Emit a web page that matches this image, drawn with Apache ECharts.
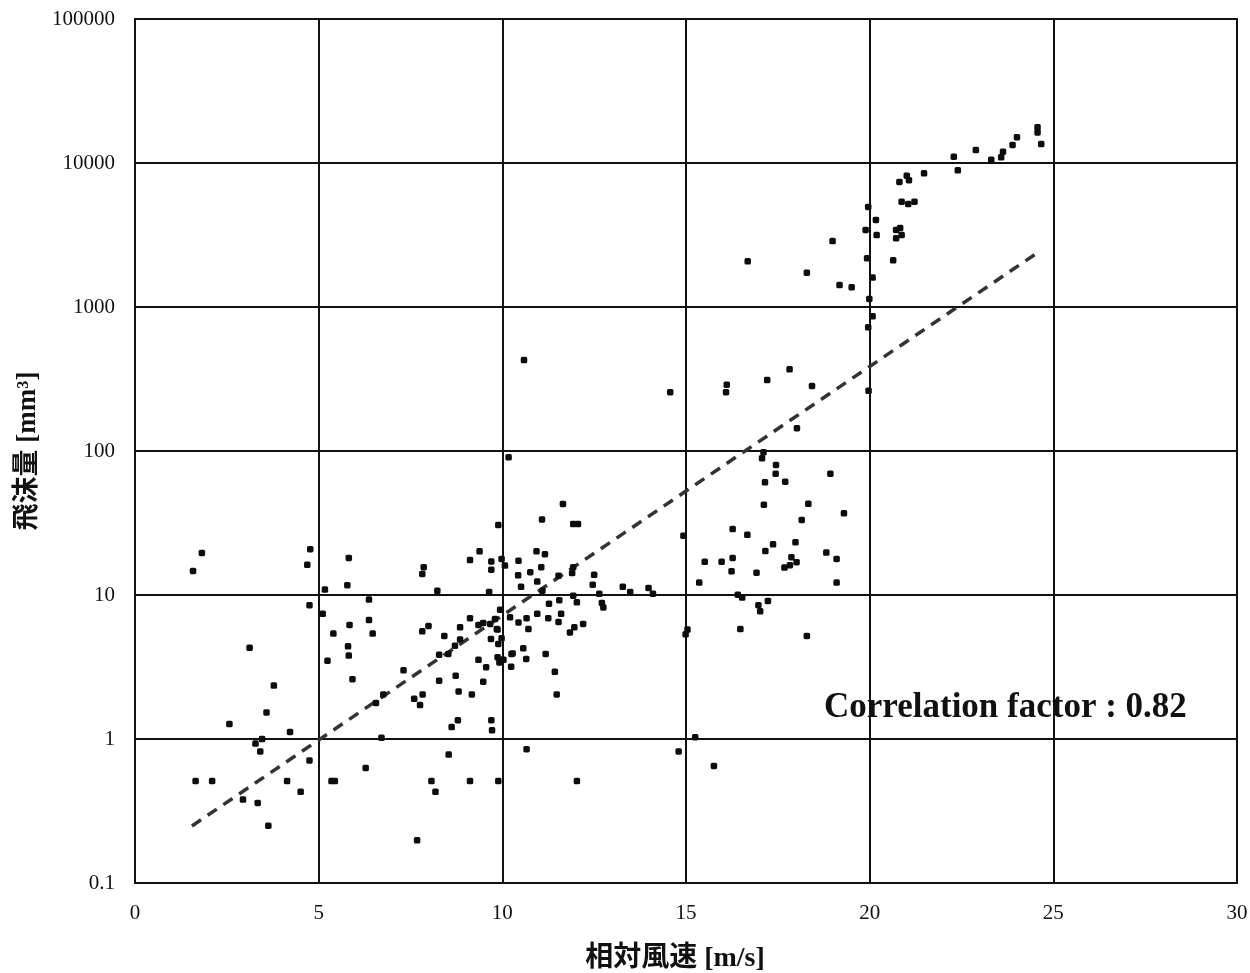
<!DOCTYPE html>
<html>
<head>
<meta charset="utf-8">
<script src="https://cdn.jsdelivr.net/npm/echarts@6/dist/echarts.min.js"></script>
<style>
html,body{margin:0;padding:0;background:#fff;}
#chart{width:1250px;height:973px;}
</style>
</head>
<body>
<div id="chart"></div>
<script>
// Relative wind speed [m/s]
const speed = [
 1.58,1.82,1.65,2.10,2.57,3.12,3.28,3.46,3.41,3.58,3.78,4.22,4.14,4.51,2.94,3.34,3.63,4.75,
 4.77,4.69,4.75,5.11,5.17,5.82,5.78,6.37,6.37,5.84,5.40,6.47,5.80,5.82,5.24,5.92,6.71,6.28,5.35,5.44,
 7.31,7.60,7.83,7.76,6.56,6.76,7.68,7.86,7.82,8.23,7.99,7.82,8.42,8.28,8.53,8.71,8.85,8.85,
 8.28,8.73,8.81,9.17,9.48,8.79,8.62,9.70,9.72,8.07,8.18,8.54,9.12,9.89,
 9.12,9.38,9.70,9.70,9.64,9.89,9.98,10.07,9.12,9.35,9.48,9.35,9.56,9.85,9.69,9.89,9.94,10.25,10.24,9.94,10.21,
 10.17,11.65,11.08,11.93,12.06,10.44,10.93,11.16,11.06,10.43,10.76,10.95,10.51,11.53,11.93,11.90,12.50,12.46,
 11.09,12.64,13.28,13.48,13.98,14.10,12.71,12.75,11.93,12.03,11.55,11.27,10.44,10.66,10.95,11.25,11.60,11.53,
 10.71,11.96,11.84,12.20,9.67,9.80,9.87,9.98,10.28,10.57,10.65,11.18,9.87,10.03,9.92,11.43,11.48,10.66,12.03,
 10.59,14.57,16.11,16.09,17.21,17.82,18.43,19.97,18.02,17.11,17.07,17.45,17.44,17.15,17.70,18.93,17.12,18.33,
 19.30,18.15,16.27,16.67,14.93,17.16,17.37,17.98,18.82,19.10,17.87,18.01,17.83,17.68,15.51,15.97,16.27,16.24,
 16.92,15.36,19.10,16.41,16.53,16.97,17.02,17.23,15.04,14.99,16.48,18.29,15.25,14.80,15.76,
 24.57,24.57,24.67,24.01,23.89,23.63,23.58,23.31,22.89,22.29,22.40,21.48,21.01,21.07,20.81,20.87,21.05,21.22,
 19.96,20.17,19.89,20.19,20.72,20.83,20.87,20.72,18.99,16.68,19.93,20.64,18.29,20.08,19.18,19.51,19.99,20.08,19.96
];
// Droplet volume [mm3]
const volume = [
 14.7,19.6,0.51,0.51,1.27,4.3,0.93,1.0,0.82,1.53,2.35,1.12,0.51,0.43,0.38,0.36,0.25,0.71,
 20.8,16.2,8.5,7.4,10.9,18.1,11.7,9.3,6.7,6.2,5.4,5.4,4.4,3.8,3.5,2.6,1.02,0.63,0.51,0.51,
 3.0,1.9,2.04,1.72,1.78,2.04,0.198,15.6,14.0,10.7,6.1,5.6,5.2,3.85,3.9,4.45,4.9,5.97,
 2.54,2.75,2.14,2.04,2.5,1.35,1.21,1.35,1.15,0.51,0.43,0.78,0.51,0.51,
 17.5,20.1,17.1,15.0,10.5,30.6,17.8,16.0,6.9,6.2,6.4,3.55,3.15,5.8,4.95,4.57,3.55,3.9,3.18,7.9,7.0,
 90.4,42.9,33.5,31.1,31.1,17.3,20.1,19.2,15.6,13.7,14.4,12.4,11.4,13.6,15.6,14.2,13.8,11.8,
 10.7,10.2,11.4,10.5,11.2,10.2,8.8,8.2,9.9,8.9,9.2,8.7,6.45,6.9,7.4,6.9,7.4,6.5,
 5.8,5.97,5.5,6.3,6.3,6.8,5.75,5.0,3.93,4.26,3.6,3.9,3.7,3.55,3.4,2.93,2.04,0.85,0.51,
 428,256,289,256,311,369,283,262,144,98,89,80,69.6,60.6,61.2,69.6,42.4,43,
 36.9,33.2,28.7,26.2,25.8,20.2,22.5,23.2,19.7,17.8,18.3,16.9,16.1,15.5,17.0,17.0,18.1,14.6,
 14.3,12.2,12.2,10.05,9.6,8.5,7.7,9.1,5.75,5.33,5.8,5.2,1.03,0.82,0.65,
 17700,16300,13550,15100,13340,11990,10960,10540,12300,11060,8900,8480,8160,7590,7380,5390,5190,5390,
 4950,4020,3430,3160,3430,3530,3160,3000,2870,2076,2180,2110,1730,1600,1420,1370,1137,861,723
];
// Exponential trend line endpoints
const trendSpeed = [1.55, 24.64];
const trendVolume = [0.249, 2450];

const xTicks = [0, 5, 10, 15, 20, 25, 30];
const correlationText = 'Correlation factor : 0.82';

const points = speed.map((s, i) => [s, volume[i]]);
const trend = trendSpeed.map((s, i) => [s, trendVolume[i]]);

const serif = '"Liberation Serif", "Times New Roman", "Noto Sans CJK JP", serif';
const chart = echarts.init(document.getElementById('chart'));
chart.setOption({
  animation: false,
  backgroundColor: '#fff',
  grid: {
    left: 135, right: 13, top: 19, bottom: 90, containLabel: false, outerBoundsMode: 'none',
    show: true, borderColor: '#111', borderWidth: 2, backgroundColor: 'transparent'
  },
  xAxis: {
    type: 'value', min: xTicks[0], max: xTicks[xTicks.length - 1], interval: 5,
    name: '相対風速 [m/s]', nameLocation: 'middle', nameGap: 62,
    nameTextStyle: { fontFamily: serif, fontSize: 28, fontWeight: 'bold', color: '#111', padding: [0, 22, 0, 0] },
    axisLine: { show: true, lineStyle: { color: '#111', width: 2 } },
    axisTick: { show: false },
    axisLabel: { fontFamily: serif, fontSize: 21, color: '#111', margin: 20 },
    splitLine: { show: true, lineStyle: { color: '#111', width: 2 } }
  },
  yAxis: {
    type: 'log', logBase: 10, min: 0.1, max: 100000,
    name: '飛沫量 [mm³]', nameLocation: 'middle', nameGap: 92, nameRotate: 90,
    nameTextStyle: { fontFamily: serif, fontSize: 27, fontWeight: 'bold', color: '#111' },
    axisLine: { show: true, lineStyle: { color: '#111', width: 2 } },
    axisTick: { show: false },
    axisLabel: {
      fontFamily: serif, fontSize: 21, color: '#111', margin: 20,
      formatter: v => v < 1 ? v.toFixed(1) : String(Math.round(v))
    },
    splitLine: { show: true, lineStyle: { color: '#111', width: 2 } }
  },
  series: [
    {
      type: 'line', data: trend, showSymbol: false, symbol: 'none',
      lineStyle: { color: '#333', width: 3.5, type: [11, 8] }, z: 3
    },
    {
      type: 'scatter', data: points, symbol: 'roundRect', symbolSize: 6.5,
      itemStyle: { color: '#0d0d0d', opacity: 1 }, z: 4
    }
  ],
  graphic: [{
    type: 'text', left: 824, top: 690,
    style: { text: correlationText, fontFamily: serif, fontSize: 35, fontWeight: 'bold', fill: '#111' }
  }]
});
</script>
</body>
</html>
